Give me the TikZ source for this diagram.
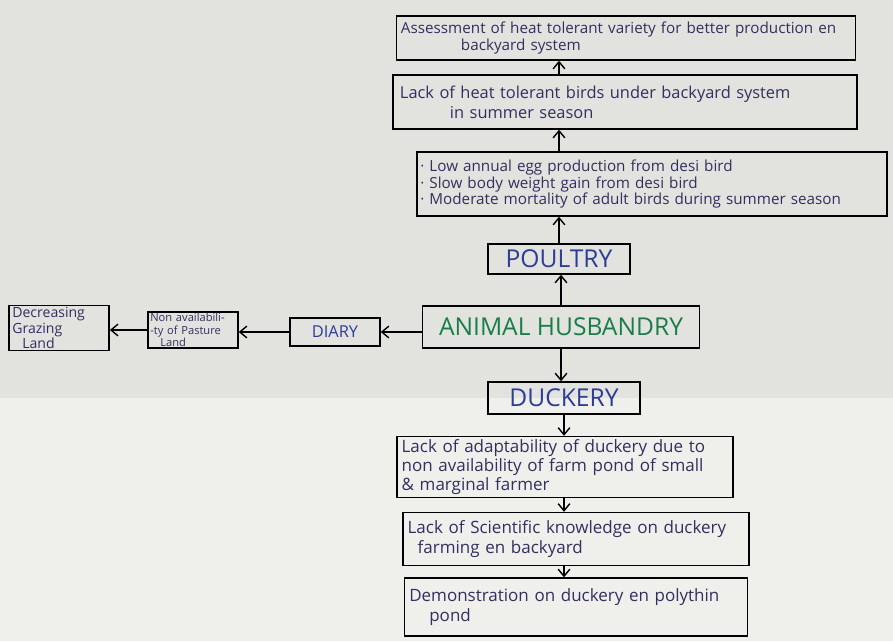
\documentclass[tikz,border=0pt]{standalone}
\usepackage{fontspec}
\setmainfont{Open Sans}
\usetikzlibrary{arrows.meta,positioning,calc}
\definecolor{ink}{RGB}{50,48,95}
\definecolor{titleblue}{RGB}{45,60,150}
\definecolor{leafgreen}{RGB}{25,125,70}
\definecolor{paperA}{RGB}{226,226,223}
\definecolor{paperB}{RGB}{239,239,236}

\begin{document}
\begin{tikzpicture}[x=0.03cm, y=-0.03cm, font=\small,
    box/.style={draw=black, line width=1.2pt, text=ink, align=left, inner xsep=6pt, inner ysep=1pt},
    title/.style={draw=black, line width=1.2pt, text=titleblue, font=\fontsize{21}{24}\selectfont, align=center},
    arr/.style={-{Straight Barb[length=6pt,width=10pt]}, line width=1.2pt}]
        % Paper
        \useasboundingbox (0,0) rectangle (893,641);
        \fill[paperA] (0,0) rectangle (893,398);
        \fill[paperB] (0,398) rectangle (893,641);

        % Centre
        \node[title, text=leafgreen, font=\fontsize{21}{24}\selectfont, minimum width=8.3cm, minimum height=1.26cm] (ah) at (561,327) {ANIMAL HUSBANDRY};

        % Poultry branch
        \node[title, minimum width=4.26cm, minimum height=0.9cm] (poultry) at (559,259) {POULTRY};
        \node[box, text width=13.9cm, minimum height=1.92cm, inner xsep=3pt, font=\fontsize{13}{14.5}\selectfont] (poulprob) at (652,184) {· Low annual egg production from desi bird\\ · Slow body weight gain from desi bird\\ · Moderate mortality of adult birds during summer season};
        \node[box, text width=13.5cm, minimum height=1.62cm, font=\fontsize{14}{17}\selectfont] (heat) at (625,102) {Lack of heat tolerant birds under backyard system\\ \hspace*{1.5cm}in summer season};
        \node[box, text width=13.5cm, minimum height=1.32cm, inner xsep=4pt, font=\fontsize{13}{15}\selectfont] (assess) at (626,38) {Assessment of heat tolerant variety for better production en\\ \hspace*{1.8cm}backyard system};

        % Dairy branch
        \node[title, font=\fontsize{14}{16}\selectfont, minimum width=2.7cm, minimum height=0.84cm] (diary) at (335,332) {DIARY};
        \node[box, font=\fontsize{9.5}{10.5}\selectfont, text width=2.56cm, minimum height=1.08cm, inner xsep=2pt] (nonavail) at (193,330) {Non availabili-\\-ty of Pasture\\ \hspace*{0.3cm}Land};
        \node[box, font=\fontsize{12}{13}\selectfont, text width=2.8cm, minimum height=1.35cm, inner xsep=3pt] (grazing) at (59,328) {Decreasing\\ Grazing\\ \hspace*{0.3cm}Land};

        % Duckery branch
        \node[title, minimum width=4.56cm, minimum height=0.96cm] (duckery) at (564,398) {DUCKERY};
        \node[box, text width=9.8cm, minimum height=1.83cm, inner xsep=4pt, font=\fontsize{14.5}{16}\selectfont] (adapt) at (565,467) {Lack of adaptability of duckery due to\\ non availability of farm pond of small\\ \& marginal farmer};
        \node[box, text width=10.1cm, minimum height=1.59cm, inner xsep=4pt, font=\fontsize{14.5}{17}\selectfont] (sci) at (576,539) {Lack of Scientific knowledge on duckery\\ \hspace*{0.3cm}farming en backyard};
        \node[box, text width=10.0cm, minimum height=1.74cm, inner xsep=4pt, font=\fontsize{14.5}{17}\selectfont] (demo) at (576,607) {Demonstration on duckery en polythin\\ \hspace*{0.6cm}pond};

        % Connections
        \draw[arr] (ah.north) -- (poultry.south -| ah.north);
        \draw[arr] (poultry.north) -- (poulprob.south -| poultry.north);
        \draw[arr] (poulprob.north -| poultry.north) -- (heat.south -| poultry.north);
        \draw[arr] (heat.north -| poultry.north) -- (assess.south -| poultry.north);

        \draw[arr] (diary.east -| ah.west) -- (diary.east);
        \draw[arr] (diary.west) -- (diary.west -| nonavail.east);
        \draw[arr] (nonavail.west) -- (nonavail.west -| grazing.east);

        \draw[arr] (ah.south) -- (duckery.north -| ah.south);
        \draw[arr] (duckery.south) -- (adapt.north -| duckery.south);
        \draw[arr] (adapt.south -| duckery.south) -- (sci.north -| duckery.south);
        \draw[arr] (sci.south -| duckery.south) -- (demo.north -| duckery.south);
    \end{tikzpicture}
\end{document}
